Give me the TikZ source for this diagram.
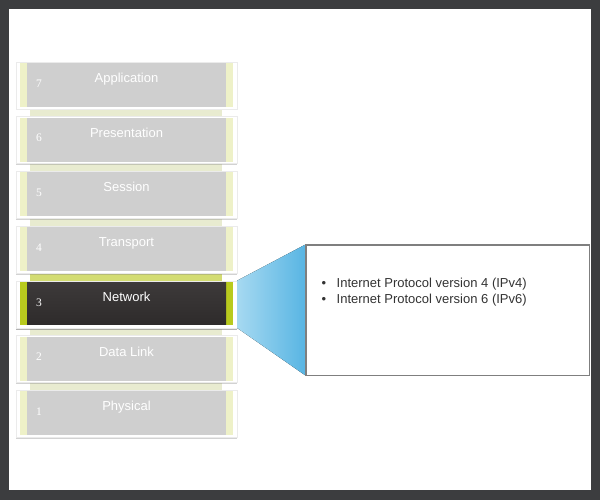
\documentclass[tikz,border=0pt]{standalone}
\usepackage{fontspec}
\setmainfont{Liberation Serif}
\setsansfont{Liberation Sans}
\usetikzlibrary{shadows,backgrounds,positioning}
\definecolor{framegray}{HTML}{3C3D3F}
\definecolor{facegray}{HTML}{CFCFCF}
\definecolor{sideyellow}{HTML}{EEF1C8}
\definecolor{tabyellow}{HTML}{E8EBD0}
\definecolor{tabgreen}{HTML}{D3DC72}
\definecolor{sidegreen}{HTML}{B8CA1E}
\definecolor{darkface}{HTML}{3D3A3A}
\definecolor{darkface2}{HTML}{2E2B2B}
\definecolor{calloutlight}{HTML}{A6D9F1}
\definecolor{calloutdark}{HTML}{58B5E3}
\definecolor{boxgray}{HTML}{7F7F7F}
\definecolor{textgray}{HTML}{333333}
\tikzstyle{layer}=[rectangle,fill=white,draw=black!8,minimum width=221pt,minimum height=47pt,inner sep=0pt,
  text height=10pt,text depth=16pt,text=white,font=\sffamily\fontsize{13}{15}\selectfont,
  drop shadow={opacity=0.35,shadow xshift=0pt,shadow yshift=-1.5pt},
  path picture={
    \fill[sideyellow] ([xshift=4pt,yshift=-1pt]path picture bounding box.north west) rectangle ([xshift=-4pt,yshift=2pt]path picture bounding box.south east);
    \fill[facegray] ([xshift=11pt,yshift=-1pt]path picture bounding box.north west) rectangle ([xshift=-11pt,yshift=2pt]path picture bounding box.south east);}]
\tikzstyle{active}=[layer,drop shadow={opacity=0.6,shadow xshift=0pt,shadow yshift=-2pt},
  path picture={
    \fill[sidegreen] ([xshift=4pt,yshift=-1pt]path picture bounding box.north west) rectangle ([xshift=-4pt,yshift=3pt]path picture bounding box.south east);
    \shade[top color=darkface,bottom color=darkface2] ([xshift=11pt,yshift=-1pt]path picture bounding box.north west) rectangle ([xshift=-11pt,yshift=3pt]path picture bounding box.south east);}]
\tikzstyle{num}=[font=\fontsize{11.5}{13}\selectfont,text=white,inner sep=0pt]
\tikzstyle{tab}=[fill=tabyellow]
\tikzstyle{infobox}=[rectangle,draw=boxgray,line width=1pt,fill=white,minimum width=283pt,minimum height=130pt,inner sep=0pt]
\tikzstyle{item}=[font=\sffamily\fontsize{13}{16}\selectfont,text=textgray,inner sep=0pt,anchor=base west]

\begin{document}
\begin{tikzpicture}[x=1pt,y=-1pt]
        \useasboundingbox (0,0) rectangle (600,500);
        \node[layer] (application) at (126.5,85.5) {Application};
        \node[layer] (presentation) at (126.5,140.2) {Presentation};
        \node[layer] (session) at (126.5,194.9) {Session};
        \node[layer] (transport) at (126.5,249.6) {Transport};
        \node[active] (network) at (126.5,304.3) {Network};
        \node[layer] (datalink) at (126.5,359) {Data Link};
        \node[layer] (physical) at (126.5,413.7) {Physical};
        \node[num,right=20pt of application.west,yshift=2pt] (n7) {7};
        \node[num,right=20pt of presentation.west,yshift=2pt] (n6) {6};
        \node[num,right=20pt of session.west,yshift=2pt] (n5) {5};
        \node[num,right=20pt of transport.west,yshift=2pt] (n4) {4};
        \node[num,right=20pt of network.west,yshift=2pt] (n3) {3};
        \node[num,right=20pt of datalink.west,yshift=2pt] (n2) {2};
        \node[num,right=20pt of physical.west,yshift=2pt] (n1) {1};
        % callout to the info box
        \node[infobox] (info) at (447.5,310) {};
        \fill[left color=calloutlight,right color=calloutdark] (network.north east) -- (info.north west) -- (info.south west) -- (network.south east) -- cycle;
        \draw[boxgray,line width=1pt] (info.north west) rectangle (info.south east);
        \node[item] (ipv4) at ([xshift=16pt,yshift=-42.5pt]info.north west) {\makebox[15pt][l]{\textbullet}Internet Protocol version 4 (IPv4)};
        \node[item] (ipv6) at ([yshift=-16pt]ipv4.base west) {\makebox[15pt][l]{\textbullet}Internet Protocol version 6 (IPv6)};
        \begin{scope}[on background layer]
            \fill[framegray] (0,0) rectangle (600,500);
            \fill[white] (9,9) rectangle (591,490);
            \fill[tab] ([xshift=14pt]presentation.north west) rectangle ([xshift=-15pt,yshift=8pt]presentation.north east);
            \fill[tab] ([xshift=14pt]session.north west) rectangle ([xshift=-15pt,yshift=8pt]session.north east);
            \fill[tab] ([xshift=14pt]transport.north west) rectangle ([xshift=-15pt,yshift=8pt]transport.north east);
            \fill[tabgreen] ([xshift=14pt]network.north west) rectangle ([xshift=-15pt,yshift=8pt]network.north east);
            \fill[tab] ([xshift=14pt]datalink.north west) rectangle ([xshift=-15pt,yshift=8pt]datalink.north east);
            \fill[tab] ([xshift=14pt]physical.north west) rectangle ([xshift=-15pt,yshift=8pt]physical.north east);
        \end{scope}
    \end{tikzpicture}
\end{document}
